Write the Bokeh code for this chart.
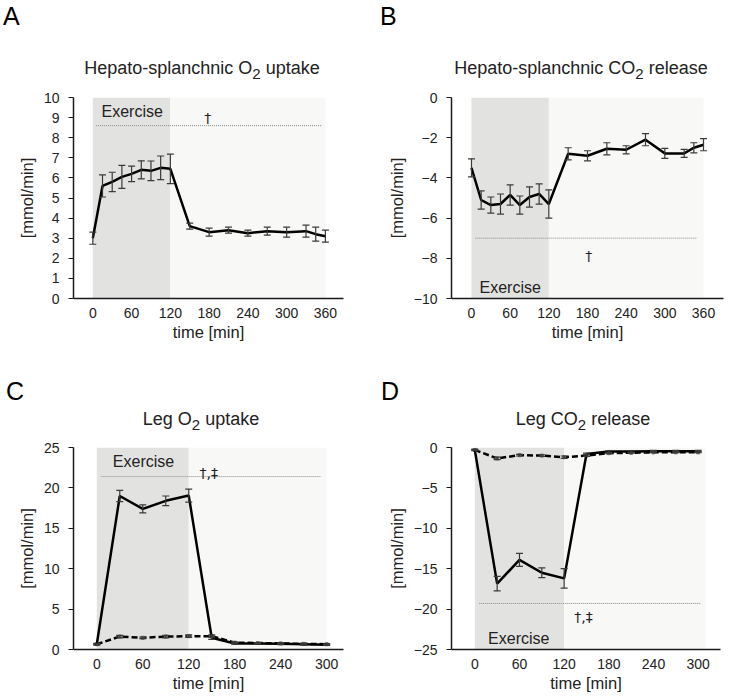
from bokeh.plotting import figure
from bokeh.layouts import column, row
from bokeh.models import ColumnDataSource, Whisker, TeeHead, Label, Range1d, FixedTicker, Div
from bokeh.embed import file_html
from bokeh.resources import INLINE

FONT = "Liberation Sans"

# ---------------- data ----------------
A_time = [0, 15, 30, 45, 60, 75, 90, 105, 120, 150, 180, 210, 240, 270, 300, 330, 345, 360]
A_val = [3.0, 5.6, 5.8, 6.05, 6.2, 6.4, 6.35, 6.5, 6.45, 3.6, 3.3, 3.4, 3.25, 3.35, 3.3, 3.35, 3.2, 3.1]
A_err = [0.3, 0.55, 0.48, 0.57, 0.39, 0.45, 0.49, 0.59, 0.73, 0.15, 0.2, 0.15, 0.15, 0.2, 0.25, 0.3, 0.35, 0.3]

B_time = [0, 15, 30, 45, 60, 75, 90, 105, 120, 150, 180, 210, 240, 270, 300, 330, 345, 360]
B_val = [-3.5, -5.1, -5.35, -5.3, -4.85, -5.35, -4.95, -4.8, -5.3, -2.8, -2.9, -2.55, -2.6, -2.1, -2.78, -2.78, -2.5, -2.35]
B_err = [0.45, 0.45, 0.4, 0.5, 0.5, 0.45, 0.5, 0.5, 0.7, 0.3, 0.25, 0.3, 0.2, 0.3, 0.25, 0.2, 0.25, 0.3]

L_time = [0, 30, 60, 90, 120, 150, 180, 210, 240, 270, 300]
C_ex = [0.65, 19.0, 17.4, 18.4, 19.05, 1.45, 0.75, 0.75, 0.7, 0.65, 0.6]
C_ex_err = [0.1, 0.7, 0.5, 0.6, 0.8, 0.2, 0.1, 0.1, 0.1, 0.1, 0.1]
C_rest = [0.65, 1.6, 1.45, 1.6, 1.65, 1.65, 0.85, 0.8, 0.75, 0.7, 0.65]
C_rest_err = [0.05, 0.15, 0.1, 0.15, 0.15, 0.15, 0.1, 0.05, 0.05, 0.05, 0.05]

D_ex = [-0.3, -16.85, -13.9, -15.5, -16.2, -0.8, -0.5, -0.5, -0.45, -0.45, -0.45]
D_ex_err = [0.1, 0.9, 0.8, 0.6, 1.2, 0.1, 0.1, 0.1, 0.1, 0.1, 0.1]
D_rest = [-0.3, -1.35, -0.95, -1.0, -1.2, -1.0, -0.7, -0.65, -0.6, -0.6, -0.6]
D_rest_err = [0.05, 0.15, 0.1, 0.1, 0.15, 0.1, 0.05, 0.05, 0.05, 0.05, 0.05]

EXERCISE = (0, 120)
A_X_TICKS = [0, 60, 120, 180, 240, 300, 360]
L_X_TICKS = [0, 60, 120, 180, 240, 300]

TITLES = ["Hepato-splanchnic O<sub>2</sub> uptake", "Hepato-splanchnic CO<sub>2</sub> release",
          "Leg O<sub>2</sub> uptake", "Leg CO<sub>2</sub> release"]
LETTERS = ["A", "B", "C", "D"]

DARK = "#e2e3e0"
LIGHT = "#f8f8f7"
INK = "#1a1a1a"
TXT = "#222222"


def make_fig(w, h, bl, br, bt, bb, xr, yr, xticks, yticks):
    p = figure(width=w, height=h, x_range=Range1d(start=xr[0], end=xr[1]),
               y_range=Range1d(start=yr[0], end=yr[1]),
               output_backend="svg", toolbar_location=None,
               min_border_left=bl, min_border_right=br, min_border_top=bt, min_border_bottom=bb)
    p.outline_line_color = None
    p.grid.visible = False
    p.background_fill_color = "white"
    p.border_fill_color = "white"
    p.xaxis.ticker = FixedTicker(ticks=xticks)
    p.yaxis.ticker = FixedTicker(ticks=yticks)
    for ax in (p.xaxis[0], p.yaxis[0]):
        ax.axis_line_color = INK
        ax.axis_line_width = 1.5
        ax.minor_tick_line_color = None
        ax.major_label_text_font = FONT
        ax.major_label_text_font_size = "14px"
        ax.major_label_text_color = TXT
        ax.axis_label_text_font = FONT
        ax.axis_label_text_font_size = "16.5px"
        ax.axis_label_text_font_style = "normal"
        ax.axis_label_text_color = TXT
    p.xaxis.major_tick_line_color = None
    p.xaxis.major_tick_out = 0
    p.xaxis.major_tick_in = 0
    p.xaxis.major_label_standoff = 9
    p.xaxis.axis_label_standoff = 2
    p.xaxis.axis_label = "time [min]"
    p.yaxis.major_tick_line_color = INK
    p.yaxis.major_tick_line_width = 1.2
    p.yaxis.major_tick_out = 5
    p.yaxis.major_tick_in = 0
    p.yaxis.major_label_standoff = 9
    p.yaxis.axis_label_standoff = 5
    p.yaxis.axis_label = "[mmol/min]"
    return p


def shade(p, y0, y1, end):
    p.quad(left=[EXERCISE[0]], right=[EXERCISE[1]], bottom=[y0], top=[y1],
           fill_color=DARK, line_color=None, level="underlay")
    p.quad(left=[EXERCISE[1]], right=[end], bottom=[y0], top=[y1],
           fill_color=LIGHT, line_color=None, level="underlay")


def series(p, t, v, e, dashed=False):
    src = ColumnDataSource(dict(t=t, v=v, lo=[a - b for a, b in zip(v, e)], hi=[a + b for a, b in zip(v, e)]))
    col = "#3a3a3a"
    w = Whisker(source=src, base="t", lower="lo", upper="hi", line_color=col, line_width=1.2,
                upper_head=TeeHead(size=7, line_color=col, line_width=1.2),
                lower_head=TeeHead(size=7, line_color=col, line_width=1.2), level="annotation")
    p.add_layout(w)
    if dashed:
        p.line("t", "v", source=src, line_color="black", line_width=2.5, line_dash="6 3")
        p.scatter("t", "v", source=src, marker="square", size=3, color="#666666")
    else:
        p.line("t", "v", source=src, line_color="black", line_width=2.5)


def text(p, x, y, s, size, font=FONT, color=TXT):
    p.add_layout(Label(x=x, y=y, text=s, text_font=font, text_font_size=size,
                       text_color=color, text_align="center", text_baseline="alphabetic"))


def dotted(p, x0, x1, y):
    p.segment(x0=[x0], x1=[x1], y0=[y], y1=[y], line_color="#8a8a8a", line_width=1, line_dash="1 1")


def header(letter, title, width, height, letter_left, letter_top, title_cx, title_top):
    html = (
        f'<div style="position:relative;width:{width}px;height:{height}px;'
        f'font-family:\'Liberation Sans\',Arial,sans-serif;color:{TXT};background:white;">'
        f'<span style="position:absolute;left:{letter_left}px;top:{letter_top}px;'
        f'font-size:25px;line-height:25px;color:#000;">{letter}</span>'
        f'<span style="position:absolute;left:{title_cx}px;top:{title_top}px;'
        f'transform:translateX(-50%);white-space:nowrap;font-size:18px;line-height:18px;">'
        f'{title}</span></div>'
    )
    return Div(text=html, width=width, height=height, margin=0)


# ---------------- headers ----------------
hA = header(LETTERS[0], TITLES[0], 375, 84, 3, 4, 202, 59)
hB = header(LETTERS[1], TITLES[1], 375, 84, 5, 4, 206, 59)
hC = header(LETTERS[2], TITLES[2], 375, 90, 6, 35, 201, 66)
hD = header(LETTERS[3], TITLES[3], 375, 90, 6, 35, 208, 66)

# ---------------- panel A ----------------
pA = make_fig(375, 260, 73, 32, 13, 46, (-29.9, 388), (0, 10), A_X_TICKS, list(range(0, 11)))
shade(pA, 0, 10, 360)
series(pA, A_time, A_val, A_err)
dotted(pA, 5, 355, 8.6)
text(pA, 178, 9.0, "\u2020", "14px", font="DejaVu Sans")
text(pA, 61, 9.3, "Exercise", "16px")

# ---------------- panel B ----------------
pB = make_fig(375, 260, 76, 27, 13, 46, (-31, 391), (-10, 0), A_X_TICKS, list(range(-10, 1, 2)))
shade(pB, -10, 0, 360)
series(pB, B_time, B_val, B_err)
dotted(pB, 6, 350, -7.0)
text(pB, 182, -7.9, "\u2020", "14px", font="DejaVu Sans")
text(pB, 60, -9.45, "Exercise", "16px")

# ---------------- panel C ----------------
pC = make_fig(375, 262, 73, 32, 13, 47, (-30.4, 322), (0, 25), L_X_TICKS, list(range(0, 26, 5)))
shade(pC, 0, 25, 300)
series(pC, L_time, C_rest, C_rest_err, dashed=True)
series(pC, L_time, C_ex, C_ex_err)
dotted(pC, 6, 292, 21.4)
text(pC, 146, 21.9, "\u2020,\u2021", "14px", font="DejaVu Sans")
text(pC, 61, 23.3, "Exercise", "16px")

# ---------------- panel D ----------------
pD = make_fig(375, 262, 76, 30, 13, 47, (-31.3, 330), (-25, 0), L_X_TICKS, list(range(-25, 1, 5)))
shade(pD, -25, 0, 310)
series(pD, L_time, D_rest, D_rest_err, dashed=True)
series(pD, L_time, D_ex, D_ex_err)
dotted(pD, 6, 304, -19.3)
text(pD, 146, -21.0, "\u2020,\u2021", "14px", font="DejaVu Sans")
text(pD, 59, -23.7, "Exercise", "16px")

layout = column(row(hA, hB), row(pA, pB), row(hC, hD), row(pC, pD))
open("out.html", "w").write(file_html(layout, INLINE))
